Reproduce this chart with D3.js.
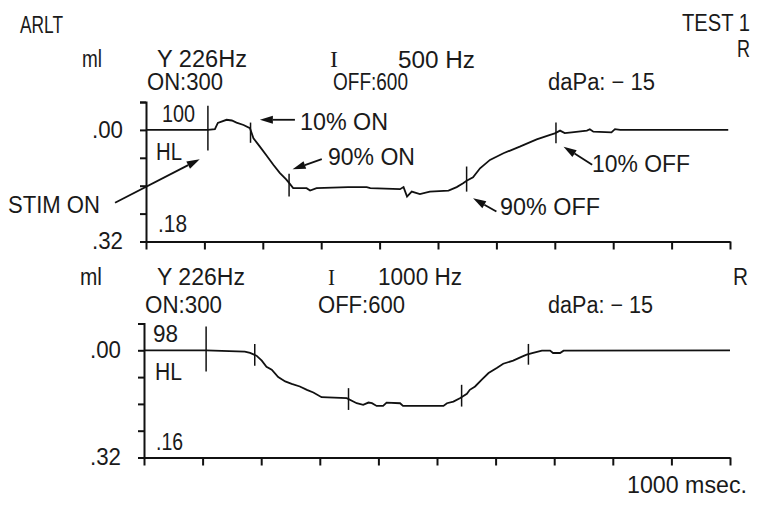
<!DOCTYPE html>
<html>
<head>
<meta charset="utf-8">
<script src="https://cdn.jsdelivr.net/npm/d3@7"></script>
<style>
  body { margin: 0; background: #fff; }
  text { font-family: "Liberation Sans", Arial, sans-serif; font-size: 23px; fill: #1a1a1a; }
  .axis path, .axis line { stroke: #111; stroke-width: 2; }
  .trace { fill: none; stroke: #111; stroke-width: 1.8; }
  .mark { stroke: #111; stroke-width: 1.5; }
</style>
</head>
<body>
<script>

////////// DATA //////////

// time axis, msec
const timeTicks = d3.range(0, 1001, 100);
// compliance axis, ml (downwards = larger)
const mlTicks = [-0.08, 0, 0.08, 0.16, 0.24, 0.32];
const mlLabels = { "0": ".00", "0.32": ".32" };

// 500 Hz reflex trace [msec, ml]
const trace500 = [
  [0, 0], [106, 0], [118, -0.002], [123, -0.020], [138, -0.029], [147, -0.027],
  [155, -0.021], [167, -0.014], [178, -0.005], [184, 0.024], [195, 0.048],
  [207, 0.075], [218, 0.100], [229, 0.123], [240, 0.142], [245, 0.152],
  [252, 0.167], [275, 0.167], [281, 0.174], [292, 0.167], [346, 0.164],
  [378, 0.164], [384, 0.167], [435, 0.170], [441, 0.164], [447, 0.191],
  [455, 0.177], [469, 0.184], [486, 0.177], [518, 0.174], [532, 0.164],
  [543, 0.153], [549, 0.146], [560, 0.136], [572, 0.110], [589, 0.086],
  [612, 0.067], [640, 0.048], [669, 0.027], [692, 0.014], [700, 0.010],
  [709, 0.002], [717, 0.009], [729, 0.007], [755, 0.002], [760, -0.002],
  [766, 0.005], [797, 0.007], [803, -0.002], [812, 0], [997, 0]
];

// 1000 Hz reflex trace [msec, ml]
const trace1000 = [
  [0, 0], [106, 0], [172, 0.004], [181, 0.008], [192, 0.016], [201, 0.031],
  [209, 0.049], [218, 0.058], [229, 0.080], [241, 0.093], [252, 0.100],
  [266, 0.108], [278, 0.118], [289, 0.126], [303, 0.140], [346, 0.143],
  [363, 0.158], [374, 0.163], [383, 0.156], [389, 0.158], [397, 0.166],
  [408, 0.166], [414, 0.156], [437, 0.158], [442, 0.166], [511, 0.166],
  [517, 0.158], [528, 0.153], [539, 0.143], [551, 0.130], [556, 0.118],
  [565, 0.108], [576, 0.088], [588, 0.068], [602, 0.053], [613, 0.040],
  [630, 0.031], [645, 0.019], [653, 0.013], [664, 0.008], [679, 0.001],
  [693, 0.001], [698, 0.008], [710, 0.008], [716, 0.001], [1000, 0]
];

// event markers [msec, top ml, bottom ml]: stim on, 10% on, 90% on, 90% off, 10% off
const markers500 = [[106, -0.069, 0.059], [179, -0.021, 0.037], [245, 0.126, 0.191], [549, 0.105, 0.177], [702, -0.021, 0.038]];
const markers1000 = [[106, -0.071, 0.063], [189, -0.019, 0.046], [349, 0.113, 0.178], [542, 0.103, 0.168], [656, -0.019, 0.043]];

// annotation arrows [from msec, from ml, to msec, to ml]
const arrows500 = [[255, -0.029, 195, -0.029], [301, 0.084, 251, 0.113], [-53, 0.209, 92, 0.084], [600, 0.234, 560, 0.196], [764, 0.100, 715, 0.048]];


////////// SETUP //////////

const svg = d3.select("body").append("svg")
    .attr("width", 757)
    .attr("height", 507);

const panels = [
  {
    x: d3.scaleLinear().domain([0, 1000]).range([146, 730]),
    y: d3.scaleLinear().domain([-0.08, 0.32]).range([102, 241.5]),
    trace: trace500, markers: markers500, arrows: arrows500,
    labels: [
      { t: "ml", x: 82, y: 67, w: 20 },
      { t: "Y 226Hz", x: 157, y: 67, w: 90 },
      { t: "I", x: 330, y: 67, w: 8, serif: true },
      { t: "500 Hz", x: 398, y: 68, w: 77 },
      { t: "R", x: 737, y: 57, w: 13 },
      { t: "ON:300", x: 147, y: 90, w: 76 },
      { t: "OFF:600", x: 333, y: 90, w: 75 },
      { t: "daPa: \u2212 15", x: 548, y: 90, w: 107 },
      { t: "100", x: 162, y: 122, w: 33 },
      { t: "HL", x: 156, y: 160, w: 26 },
      { t: ".18", x: 158, y: 232, w: 29 },
      { t: "10% ON", x: 300, y: 130, w: 88 },
      { t: "90% ON", x: 328, y: 165, w: 87 },
      { t: "STIM ON", x: 8, y: 213, w: 92 },
      { t: "90% OFF", x: 500, y: 215, w: 100 },
      { t: "10% OFF", x: 592, y: 172, w: 98 }
    ]
  },
  {
    x: d3.scaleLinear().domain([0, 1000]).range([144, 730]),
    y: d3.scaleLinear().domain([-0.08, 0.32]).range([323.5, 457.5]),
    trace: trace1000, markers: markers1000, arrows: [],
    labels: [
      { t: "ml", x: 80, y: 285, w: 22 },
      { t: "Y 226Hz", x: 157, y: 285, w: 88 },
      { t: "I", x: 328, y: 285, w: 7, serif: true },
      { t: "1000 Hz", x: 378, y: 285, w: 84 },
      { t: "R", x: 733, y: 285, w: 15 },
      { t: "ON:300", x: 145, y: 313, w: 77 },
      { t: "OFF:600", x: 318, y: 313, w: 87 },
      { t: "daPa: \u2212 15", x: 548, y: 313, w: 105 },
      { t: "98", x: 153, y: 342, w: 25 },
      { t: "HL", x: 155, y: 380, w: 27 },
      { t: ".16", x: 156, y: 450, w: 27 },
      { t: "1000 msec.", x: 627, y: 493, w: 120 }
    ]
  }
];

// page titles
[{ t: "ARLT", x: 20, y: 33, w: 43 }, { t: "TEST 1", x: 682, y: 31, w: 68 }].forEach(addLabel);

function addLabel(d) {
  svg.append("text")
      .attr("x", d.x)
      .attr("y", d.y)
      .attr("textLength", d.w)
      .attr("lengthAdjust", "spacingAndGlyphs")
      .style("font-family", d.serif ? "'Liberation Serif', serif" : null)
      .text(d.t);
}


////////// PANELS //////////

panels.forEach(p => {
  let g = svg.append("g");

  // y axis with bracket ends
  g.append("g")
      .attr("class", "axis")
      .attr("transform", "translate(" + p.x(0) + ",0)")
      .call(d3.axisLeft(p.y)
        .tickValues(mlTicks)
        .tickSize(6)
        .tickSizeOuter(6)
        .tickPadding(17)
        .tickFormat(d => mlLabels[String(d)] || ""));

  // x axis at the bottom
  g.append("g")
      .attr("class", "axis")
      .attr("transform", "translate(0," + p.y(0.32) + ")")
      .call(d3.axisBottom(p.x)
        .tickValues(timeTicks)
        .tickSize(8)
        .tickSizeOuter(0)
        .tickFormat(""));

  g.selectAll(".axis text")
      .attr("textLength", 31)
      .attr("lengthAdjust", "spacingAndGlyphs")
      .style("font-family", "'Liberation Sans', Arial, sans-serif")
      .style("font-size", "23px")
      .style("fill", "#1a1a1a");

  // reflex trace
  let line = d3.line()
      .x(d => p.x(d[0]))
      .y(d => p.y(d[1]));

  g.append("path")
      .datum(p.trace)
      .attr("class", "trace")
      .attr("d", line);

  // event markers
  g.selectAll(".mark")
      .data(p.markers)
      .enter()
      .append("line")
      .attr("class", "mark")
      .attr("x1", d => p.x(d[0]))
      .attr("x2", d => p.x(d[0]))
      .attr("y1", d => p.y(d[1]))
      .attr("y2", d => p.y(d[2]));

  // annotation arrows
  p.arrows.forEach(a => {
    let x0 = p.x(a[0]), y0 = p.y(a[1]), x1 = p.x(a[2]), y1 = p.y(a[3]);
    let ang = Math.atan2(y1 - y0, x1 - x0);
    let len = 13, half = 4;
    let bx = x1 - len * Math.cos(ang), by = y1 - len * Math.sin(ang);
    g.append("line")
        .attr("x1", x0).attr("y1", y0)
        .attr("x2", bx).attr("y2", by)
        .attr("stroke", "#111")
        .attr("stroke-width", 1.8);
    g.append("path")
        .attr("d", "M" + x1 + "," + y1 +
          "L" + (bx + half * Math.sin(ang)) + "," + (by - half * Math.cos(ang)) +
          "L" + (bx - half * Math.sin(ang)) + "," + (by + half * Math.cos(ang)) + "Z")
        .attr("fill", "#111");
  });

  p.labels.forEach(addLabel);
});

</script>
</body>
</html>
